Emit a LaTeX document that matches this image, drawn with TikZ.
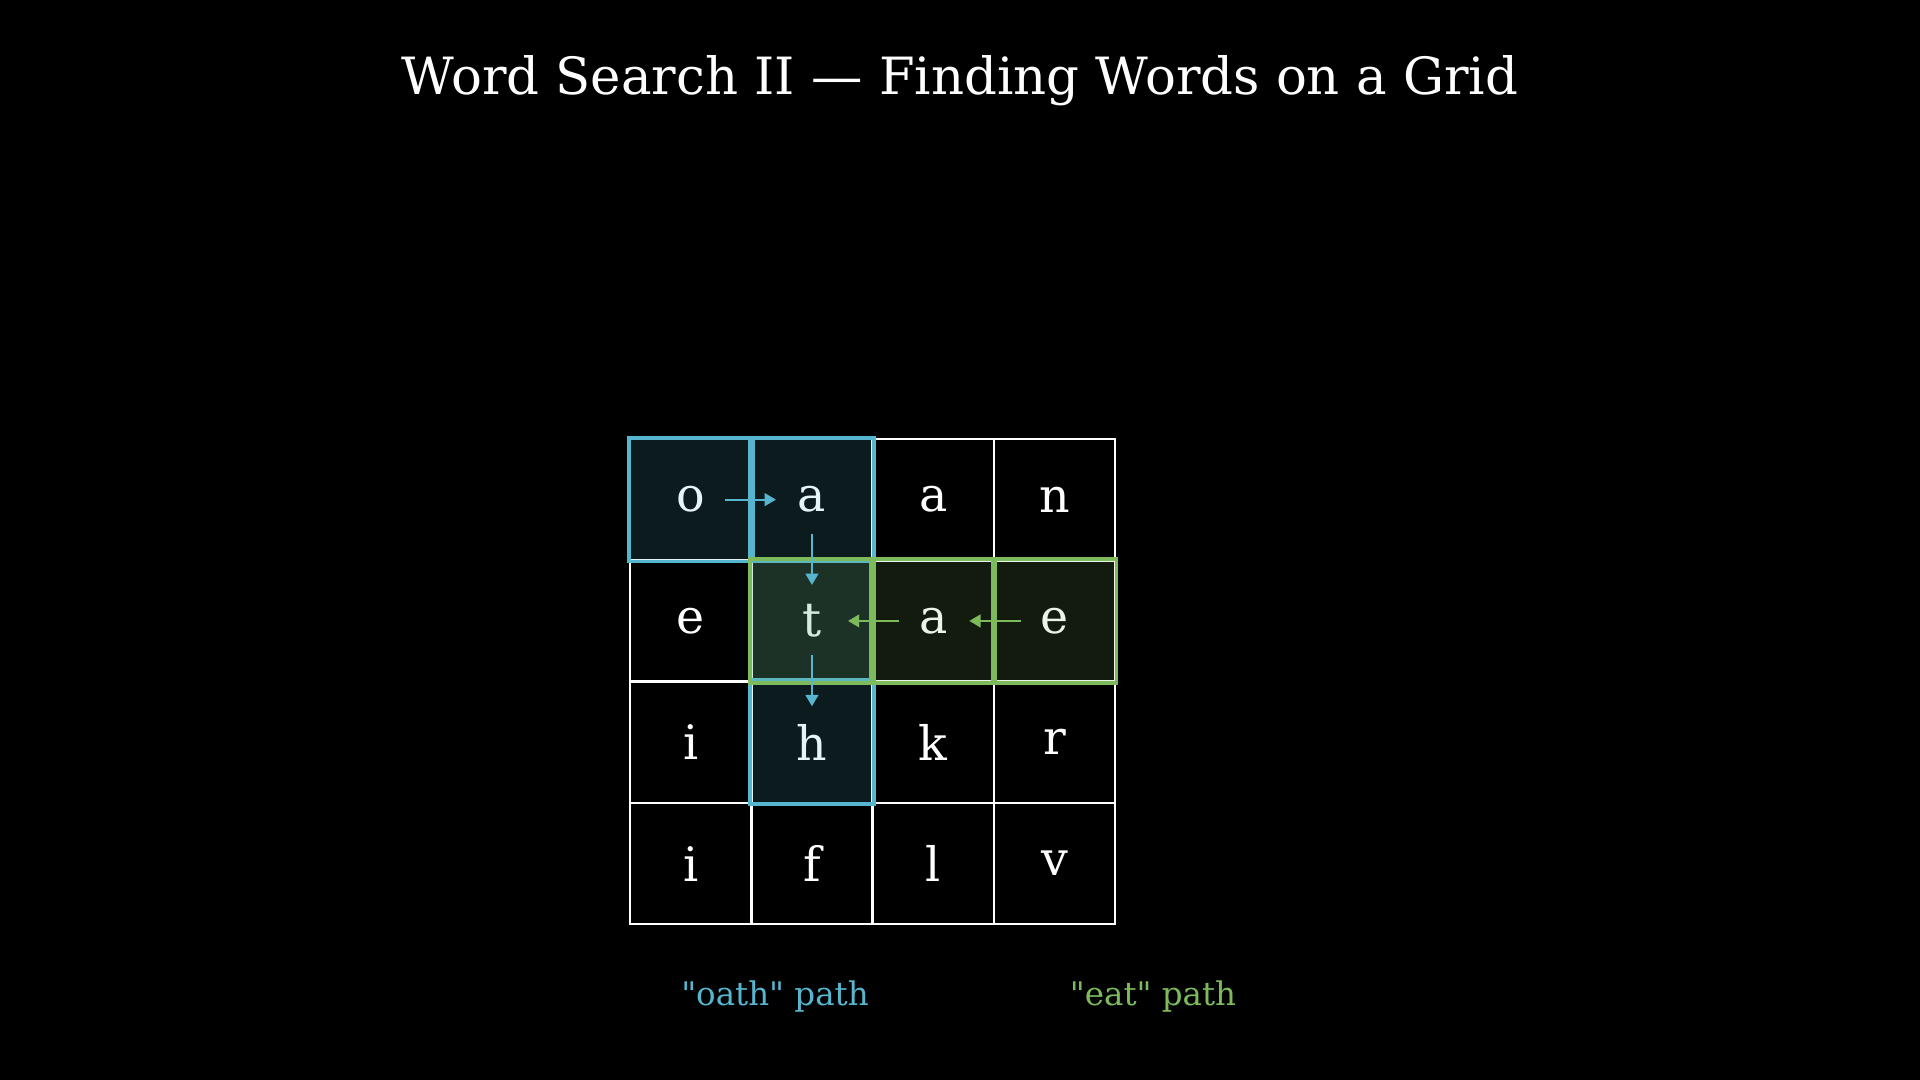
\documentclass[tikz,border=0pt]{standalone}
\usepackage{fontspec}
\setmainfont{DejaVu Serif}[Ligatures=TeXOff]
\usetikzlibrary{arrows.meta}
\definecolor{bluep}{RGB}{86,182,208}
\definecolor{greenp}{RGB}{124,186,92}
\tikzset{
  cell/.style={minimum size=1.213cm, inner sep=0pt, text=white, font=\fontsize{13.5}{16}\selectfont},
  gridline/.style={draw=white, line width=0.7pt},
  bluebox/.style={draw=bluep, line width=1.1pt, fill=bluep, fill opacity=0.15},
  greenbox/.style={draw=greenp, line width=1.1pt, fill=greenp, fill opacity=0.15},
  bluearrow/.style={draw=bluep, line width=0.6pt, -{Triangle[length=3.2pt,width=3.6pt]}, shorten <=0.34cm, shorten >=0.36cm},
  greenarrow/.style={draw=greenp, line width=0.6pt, -{Triangle[length=3.2pt,width=3.6pt]}, shorten <=0.34cm, shorten >=0.36cm},
  lbl/.style={font=\fontsize{9.25}{11}\selectfont}
}
\begin{document}
\begin{tikzpicture}[x=0.01cm,y=-0.01cm]
\fill[black] (0,0) rectangle (1920,1080);
\useasboundingbox (0,0) rectangle (1920,1080);
\node[text=white, font=\fontsize{14.6}{18}\selectfont] (title) at (960,81) {Word Search II — Finding Words on a Grid};
% grid cells
\def\gx{630}\def\gy{439}\def\cs{121.3}
\foreach \r/\row in {0/{o,a,a,n},1/{e,t,a,e},2/{i,h,k,r},3/{i,f,l,v}} {
  \foreach \ch [count=\c from 0] in \row {
    \node[cell, gridline] (c\r\c) at ({\gx+\cs*(\c+0.5)},{\gy+\cs*(\r+0.5)}) {\ch};
  }
}
% blue path boxes
\foreach \n in {c00,c01,c11,c21} {
  \path[bluebox] (\n.north west) rectangle (\n.south east);
}
% green path boxes
\foreach \n in {c11,c12,c13} {
  \path[greenbox] (\n.north west) rectangle (\n.south east);
}
% arrows
\draw[bluearrow] (c00.center) -- (c01.center);
\draw[bluearrow] (c01.center) -- (c11.center);
\draw[bluearrow] (c11.center) -- (c21.center);
\draw[greenarrow] (c13.center) -- (c12.center);
\draw[greenarrow] (c12.center) -- (c11.center);
% labels
\node[lbl, text=bluep] (oathlbl) at (775,997) {"oath" path};
\node[lbl, text=greenp] (eatlbl) at (1153,997) {"eat" path};
\end{tikzpicture}
\end{document}
